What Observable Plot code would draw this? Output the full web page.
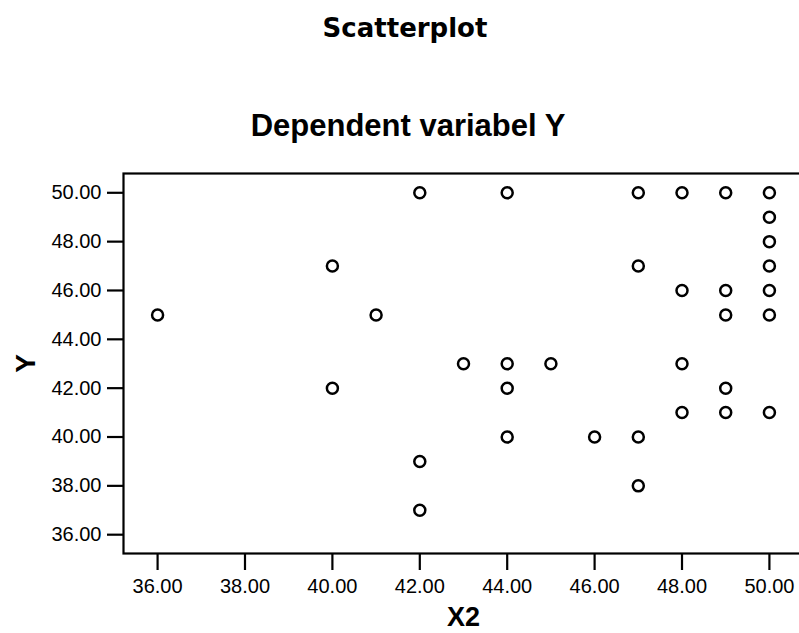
<!DOCTYPE html>
<html>
<head>
<meta charset="utf-8">
<script src="https://cdn.jsdelivr.net/npm/d3@7"></script>
<script src="https://cdn.jsdelivr.net/npm/@observablehq/plot@0.6"></script>
<style>
  html, body { margin: 0; padding: 0; background: #fff; overflow: hidden; width: 799px; height: 633px; }
  #wrap { position: relative; width: 799px; height: 633px; overflow: hidden; background: #fff; }
  .t { position: absolute; text-align: center; color: #000; white-space: nowrap; }
  #title { top: 15px; left: 0; width: 810px; font-family: "DejaVu Sans", Verdana, sans-serif; font-weight: bold; font-size: 26px; line-height: 26px; }
  #subtitle { top: 110px; left: 0; width: 816px; font-family: "Liberation Sans", Arial, sans-serif; font-weight: bold; font-size: 31px; line-height: 31px; }
  #chart { position: absolute; left: 0; top: 150px; width: 810px; height: 483px; }
  #chart svg { max-width: none !important; width: 810px; height: 483px; }
  #chart g[aria-label="x-axis label"] text { font-weight: bold; font-size: 27px; }
  #chart g[aria-label="y-axis label"] text { font-weight: bold; font-size: 28px; }
</style>
</head>
<body>
<div id="wrap">
  <div id="title" class="t">Scatterplot</div>
  <div id="subtitle" class="t">Dependent variabel Y</div>
  <div id="chart"></div>
</div>
<script>
const x2 = [36, 40, 40, 41, 42, 42, 42, 43, 44, 44, 44, 44, 45, 46, 47, 47, 47, 47, 48, 48, 48, 48, 49, 49, 49, 49, 49, 50, 50, 50, 50, 50, 50, 50];
const yVals = [45, 47, 42, 45, 50, 39, 37, 43, 50, 43, 42, 40, 43, 40, 50, 47, 40, 38, 50, 46, 43, 41, 50, 46, 45, 42, 41, 50, 49, 48, 47, 46, 45, 41];
const xTicks = [36, 38, 40, 42, 44, 46, 48, 50];
const yTicks = [36, 38, 40, 42, 44, 46, 48, 50];
const xLabel = "X2";
const yLabel = "Y";

const data = x2.map((v, i) => ({x2: v, y: yVals[i]}));
const fmt = d3.format(".2f");

const chart = Plot.plot({
  width: 810,
  height: 483,
  marginTop: 23,
  marginBottom: 80,
  marginLeft: 123,
  marginRight: 7,
  style: {fontFamily: "'Liberation Sans', Arial, sans-serif", fontSize: "20px", background: "white", color: "black", overflow: "visible", maxWidth: "none"},
  x: {domain: [35.22, 50.78]},
  y: {domain: [35.23, 50.79]},
  marks: [
    Plot.frame({stroke: "black", strokeWidth: 2.2}),
    Plot.axisX({ticks: xTicks, tickFormat: fmt, tickSize: 17, tickPadding: 8, strokeWidth: 2.2, fontSize: 20,
      label: xLabel, labelAnchor: "center", labelArrow: "none", labelOffset: 72}),
    Plot.axisY({ticks: yTicks, tickFormat: fmt, tickSize: 16, tickPadding: 6, strokeWidth: 2.2, fontSize: 20,
      label: yLabel, labelAnchor: "center", labelArrow: "none", labelOffset: 108}),
    Plot.dot(data, {x: "x2", y: "y", r: 5.5, stroke: "black", strokeWidth: 2.5, fill: "none"})
  ]
});
document.getElementById("chart").appendChild(chart);
</script>
</body>
</html>
